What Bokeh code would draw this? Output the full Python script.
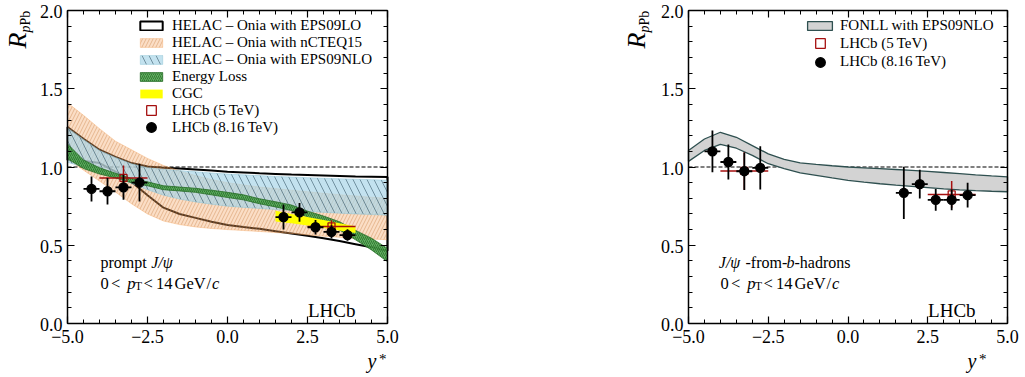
import numpy as np
from math import pi
from bokeh.plotting import figure
from bokeh.models import (Range1d, FixedTicker, LinearAxis, CustomJSTickFormatter,
                          Label, Legend, LegendItem, ColumnDataSource)
from bokeh.core.properties import value
from bokeh.layouts import row
from bokeh.embed import file_html
from bokeh.resources import INLINE

FONT = "Liberation Serif"

# ---------------- data ----------------
x_major = [-5.0, -2.5, 0.0, 2.5, 5.0]
x_minor = [v / 2 for v in range(-10, 11)]
y_major = [0.0, 0.5, 1.0, 1.5, 2.0]
y_minor = [v / 10 for v in range(0, 21)]
ref_level = 1.0

ybins = [-4.25, -3.75, -3.25, -2.75, 1.75, 2.25, 2.75, 3.25, 3.75]
ybin_half = [0.25] * 9
prompt_R = [0.86, 0.845, 0.87, 0.90, 0.68, 0.71, 0.615, 0.585, 0.565]
prompt_err = [0.08, 0.085, 0.08, 0.12, 0.08, 0.06, 0.047, 0.042, 0.037]
fromb_R = [1.10, 1.032, 0.973, 0.994, 0.835, 0.89, 0.79, 0.79, 0.82]
fromb_err = [0.134, 0.112, 0.12, 0.138, 0.167, 0.092, 0.07, 0.066, 0.079]

ybins5 = [-3.25, 3.25]
ybin5_half = [0.75, 0.75]
prompt5_R = [0.93, 0.62]
prompt5_err = [0.08, 0.04]
fromb5_R = [0.975, 0.825]
fromb5_err = [0.12, 0.085]

ygrid = [-5, -4.5, -4, -3.5, -3, -2.5, -2, -1.5, -1, -0.5, 0, 0.5, 1, 1.5, 2, 2.5, 3, 3.5, 4, 4.5, 5]
eps09lo_hi = [1.255, 1.18, 1.11, 1.065, 1.025, 1.003, 0.995, 0.99, 0.984, 0.977, 0.97, 0.965, 0.96,
              0.956, 0.952, 0.949, 0.946, 0.943, 0.94, 0.938, 0.936]
eps09lo_lo = [1.045, 1.04, 1.025, 0.97, 0.905, 0.82, 0.74, 0.70, 0.675, 0.65, 0.63, 0.617, 0.605,
              0.59, 0.575, 0.56, 0.545, 0.527, 0.507, 0.487, 0.465]
ncteq_hi = [1.41, 1.33, 1.245, 1.165, 1.11, 1.055, 1.01, 0.975, 0.945, 0.92, 0.90, 0.885, 0.872,
            0.862, 0.852, 0.842, 0.832, 0.823, 0.815, 0.807, 0.80]
ncteq_lo = [1.05, 0.98, 0.91, 0.84, 0.765, 0.70, 0.655, 0.632, 0.617, 0.607, 0.60, 0.594, 0.588,
            0.581, 0.575, 0.566, 0.558, 0.551, 0.545, 0.54, 0.535]
eps09nlo_hi = [1.25, 1.175, 1.105, 1.06, 1.02, 0.995, 0.985, 0.977, 0.97, 0.962, 0.955, 0.95, 0.945,
               0.94, 0.936, 0.932, 0.928, 0.925, 0.922, 0.919, 0.916]
eps09nlo_lo = [1.03, 1.0, 0.965, 0.93, 0.895, 0.855, 0.82, 0.795, 0.777, 0.762, 0.75, 0.742, 0.735,
               0.728, 0.722, 0.716, 0.71, 0.705, 0.70, 0.696, 0.692]
eloss_hi = [1.147, 1.045, 0.995, 0.96, 0.926, 0.905, 0.88, 0.872, 0.864, 0.852, 0.838, 0.822, 0.797,
            0.778, 0.757, 0.718, 0.687, 0.65, 0.595, 0.545, 0.48]
eloss_lo = [1.053, 0.99, 0.955, 0.93, 0.90, 0.88, 0.855, 0.847, 0.838, 0.822, 0.805, 0.79, 0.765,
            0.745, 0.722, 0.68, 0.645, 0.597, 0.535, 0.47, 0.395]
cgc_y = [1.5, 2.0, 2.5, 3.0, 3.5, 4.0]
cgc_hi = [0.72, 0.70, 0.68, 0.661, 0.641, 0.622]
cgc_lo = [0.652, 0.64, 0.626, 0.611, 0.595, 0.578]
fonll_hi = [1.106, 1.179, 1.222, 1.19, 1.137, 1.084, 1.049, 1.027, 1.017, 1.008, 1.0, 0.995, 0.99,
            0.984, 0.978, 0.972, 0.965, 0.958, 0.95, 0.943, 0.937]
fonll_lo = [1.036, 1.106, 1.144, 1.12, 1.074, 1.021, 0.99, 0.962, 0.947, 0.93, 0.915, 0.903, 0.893,
            0.884, 0.876, 0.868, 0.86, 0.854, 0.849, 0.845, 0.842]

leg_left = ["HELAC \u2013 Onia with EPS09LO", "HELAC \u2013 Onia with nCTEQ15",
            "HELAC \u2013 Onia with EPS09NLO", "Energy Loss", "CGC"]
leg_right = ["FONLL with EPS09NLO"]
leg_5 = "LHCb (5\u2009TeV)"
leg_8 = "LHCb (8.16\u2009TeV)"

# ---------------- layout constants (pixels) ----------------
H = 377
FR_TOP, FR_BOT = 10, 323
YPX = (FR_BOT - FR_TOP) / 2.0            # px per unit of R
W1, L1, XPX1 = 420, 67, 32.0            # left figure: width, frame-left, px per unit
W2, L2, XPX2 = 605, 268, 31.9           # right figure (local coordinates)
OFF2 = 420                              # right figure starts here in the page


def Y(py):
    return 2.0 - (py - FR_TOP) / YPX


def X1(px):
    return -5.0 + (px - L1) / XPX1


def X2(px):            # px in page coordinates
    return -5.0 + (px - OFF2 - L2) / XPX2


blank = CustomJSTickFormatter(code="return '';")


def add_axis(p, side):
    if side in ("below", "above"):
        ticker = FixedTicker(ticks=x_major, minor_ticks=x_minor)
        loc = y_major[0] if side == "below" else y_major[-1]
        bounds = (x_major[0], x_major[-1])
    else:
        ticker = FixedTicker(ticks=y_major, minor_ticks=y_minor)
        loc = x_major[0] if side == "left" else x_major[-1]
        bounds = (y_major[0], y_major[-1])
    ax = LinearAxis(ticker=ticker, formatter=blank, fixed_location=loc, bounds=bounds)
    ax.major_tick_in = 7
    ax.major_tick_out = 0
    ax.minor_tick_in = 4
    ax.minor_tick_out = 0
    ax.axis_line_color = "black"
    ax.axis_line_width = 1.5
    ax.major_tick_line_color = "black"
    ax.minor_tick_line_color = "black"
    ax.major_tick_line_width = 1.2
    ax.minor_tick_line_width = 1.0
    ax.major_label_text_font_size = "0px"
    ax.major_label_standoff = 0
    p.add_layout(ax, side)


def make_fig(width, xr):
    p = figure(width=width, height=H, x_range=Range1d(*xr), y_range=Range1d(Y(H), Y(0)),
               output_backend="svg", toolbar_location=None, x_axis_type=None, y_axis_type=None,
               min_border=0, min_border_left=0, min_border_right=0, min_border_top=0,
               min_border_bottom=0)
    p.outline_line_color = None
    p.xgrid.visible = False
    p.ygrid.visible = False
    p.background_fill_color = "white"
    p.border_fill_color = "white"
    for s in ("left", "below", "right", "above"):
        add_axis(p, s)
    # tick labels
    fmt = lambda v: f"{v:.1f}".replace("-", "\u2212")
    p.text(x=[x_major[0]] * len(y_major), y=y_major, text=[fmt(v) for v in y_major],
           text_font=value(FONT), text_font_size=value("18px"), text_color="black",
           text_align="right", text_baseline="middle", x_offset=-5, y_offset=1)
    p.text(x=x_major, y=[y_major[0]] * len(x_major), text=[fmt(v) for v in x_major],
           text_font=value(FONT), text_font_size=value("18px"), text_color="black",
           text_align="center", text_baseline="top", y_offset=6)
    # reference line at 1
    p.segment(x0=x_major[0], y0=ref_level, x1=x_major[-1], y1=ref_level,
              line_color="black", line_width=1.2, line_dash="4 2")
    return p


def band(p, xs, lo, hi, **kw):
    px = list(xs) + list(xs)[::-1]
    py = list(lo) + list(hi)[::-1]
    return p.patch(px, py, **kw)


def points(p, xs, xh, ys, es, color, marker, size, lw, fill):
    xs = np.array(xs); xh = np.array(xh); ys = np.array(ys); es = np.array(es)
    src = ColumnDataSource(dict(x=xs, y=ys, lo=ys - es, hi=ys + es, xl=xs - xh, xr=xs + xh))
    p.segment(x0="x", y0="lo", x1="x", y1="hi", source=src, line_color=color, line_width=lw)
    p.segment(x0="xl", y0="y", x1="xr", y1="y", source=src, line_color=color, line_width=lw)
    return p.scatter("x", "y", source=src, marker=marker, size=size, line_color=color,
                     fill_color=fill, line_width=1.3)


def legend(p, items, loc, gw, gh, lh, standoff):
    lg = Legend(items=items, location=loc, orientation="vertical", glyph_width=gw,
                glyph_height=gh, label_height=lh, spacing=0, padding=0, margin=0,
                label_standoff=standoff, border_line_alpha=0, background_fill_alpha=0,
                label_text_font=FONT, label_text_font_size="15px", label_text_color="black")
    p.add_layout(lg)


def txt(p, x, y, s, size, italic=False, align="left", angle=0.0):
    p.add_layout(Label(x=x, y=y, text=s, text_font=FONT, text_font_size=size,
                       text_font_style="italic" if italic else "normal", text_color="black",
                       text_align=align, text_baseline="alphabetic", angle=angle))


def pt_line(p, X, x0, py):
    txt(p, X(x0), Y(py), "0", "16.5px")
    txt(p, X(x0 + 10.5), Y(py), "<", "16.5px")
    txt(p, X(x0 + 26.7), Y(py), "p", "16.5px", italic=True)
    txt(p, X(x0 + 34.5), Y(py + 3), "T", "11.5px")
    txt(p, X(x0 + 43), Y(py), "<", "16.5px")
    txt(p, X(x0 + 55.5), Y(py), "14", "16.5px")
    txt(p, X(x0 + 74), Y(py), "GeV", "16.5px")
    txt(p, X(x0 + 106), Y(py), "/", "16.5px")
    txt(p, X(x0 + 111.5), Y(py), "c", "16.5px", italic=True)


def axis_titles(p, X, r_px, yl_px):
    txt(p, X(r_px), Y(48), "R", "26px", italic=True, angle=pi / 2)
    txt(p, X(r_px + 8), Y(32), "p", "14px", italic=True, angle=pi / 2)
    txt(p, X(r_px + 8), Y(25), "Pb", "14px", angle=pi / 2)
    txt(p, X(yl_px), Y(360), "y", "20px", italic=True)
    txt(p, X(yl_px + 11.5), Y(358), "*", "15px")


RED = "#a50f0f"

# ---------------- left figure ----------------
p1 = make_fig(W1, (X1(0), X1(W1)))

r_lo = band(p1, ygrid, eps09lo_lo, eps09lo_hi, fill_alpha=0, line_color="black", line_width=2)
r_nc = band(p1, ygrid, ncteq_lo, ncteq_hi, fill_color="#f4a460", fill_alpha=0.36,
            hatch_pattern="/", hatch_color="#c57a3c", hatch_alpha=0.5, hatch_scale=7,
            hatch_weight=0.8, line_color="#f4a460", line_alpha=0.5, line_width=0.8)
r_nlo = band(p1, ygrid, eps09nlo_lo, eps09nlo_hi, fill_color="#a9d6e8", fill_alpha=0.7,
             hatch_pattern="\\", hatch_color="#2f4f5f", hatch_alpha=0.7, hatch_scale=14,
             hatch_weight=0.8, line_color="#8cc3d6", line_alpha=0.6, line_width=0.8)
r_el = band(p1, ygrid, eloss_lo, eloss_hi, fill_color="#4fa64f", fill_alpha=0.9,
            hatch_pattern="/", hatch_color="#1c5a1c", hatch_alpha=0.8, hatch_scale=4,
            hatch_weight=0.8, line_color="#2a6e2a", line_width=0.8)
r_cgc = band(p1, cgc_y, cgc_lo, cgc_hi, fill_color="#ffff00", line_color=None)

r_red1 = points(p1, ybins5, ybin5_half, prompt5_R, prompt5_err, RED, "square", 7, 1.5, None)
r_blk1 = points(p1, ybins, ybin_half, prompt_R, prompt_err, "black", "circle", 9, 1.8, "black")
c_red1 = p1.scatter(x=[], y=[], marker="cross", size=9, line_color=RED, line_width=1.5)
c_blk1 = p1.scatter(x=[], y=[], marker="cross", size=9, line_color="black", line_width=1.5)

legend(p1, [LegendItem(label=l, renderers=[r]) for l, r in
            zip(leg_left, [r_lo, r_nc, r_nlo, r_el, r_cgc])], (137, H - 102.2), 28, 11, 17, 7)
legend(p1, [LegendItem(label=leg_5, renderers=[c_red1, r_red1])], (137, H - 122), 28, 24, 24, 7)
legend(p1, [LegendItem(label=leg_8, renderers=[c_blk1, r_blk1])], (137, H - 139), 28, 24, 24, 7)

txt(p1, X1(100), Y(262), "prompt", "16px")
txt(p1, X1(150.7), Y(262), "J/\u03c8", "16px", italic=True)
pt_line(p1, X1, 100, 282.5)
txt(p1, 4.0, Y(310), "LHCb", "19px", align="right")
axis_titles(p1, X1, 17, 367)

# ---------------- right figure ----------------
p2 = make_fig(W2, (X2(OFF2), X2(OFF2 + W2)))

r_fonll = band(p2, ygrid, fonll_lo, fonll_hi, fill_color="#d3d3d3", line_color="#2f5050",
               line_width=1.3)
r_red2 = points(p2, ybins5, ybin5_half, fromb5_R, fromb5_err, RED, "square", 7, 1.5, None)
r_blk2 = points(p2, ybins, ybin_half, fromb_R, fromb_err, "black", "circle", 9, 1.8, "black")
c_red2 = p2.scatter(x=[], y=[], marker="cross", size=9, line_color=RED, line_width=1.5)
c_blk2 = p2.scatter(x=[], y=[], marker="cross", size=9, line_color="black", line_width=1.5)

legend(p2, [LegendItem(label=leg_right[0], renderers=[r_fonll])], (804 - OFF2, H - 33.5), 31, 11, 17, 5)
legend(p2, [LegendItem(label=leg_5, renderers=[c_red2, r_red2])], (806 - OFF2, H - 55.3), 28, 24, 24, 6)
legend(p2, [LegendItem(label=leg_8, renderers=[c_blk2, r_blk2])], (806 - OFF2, H - 73.7), 28, 24, 24, 6)

txt(p2, X2(718.3), Y(262), "J/\u03c8", "16px", italic=True)
txt(p2, X2(745), Y(262), "-from-", "16px")
txt(p2, X2(786), Y(262), "b", "16px", italic=True)
txt(p2, X2(794), Y(262), "-hadrons", "16px")
pt_line(p2, X2, 720, 282.5)
txt(p2, 4.0, Y(310), "LHCb", "19px", align="right")
axis_titles(p2, X2, 636, 967)

layout = row(p1, p2, spacing=0)
open("out.html", "w").write(file_html(layout, INLINE))
